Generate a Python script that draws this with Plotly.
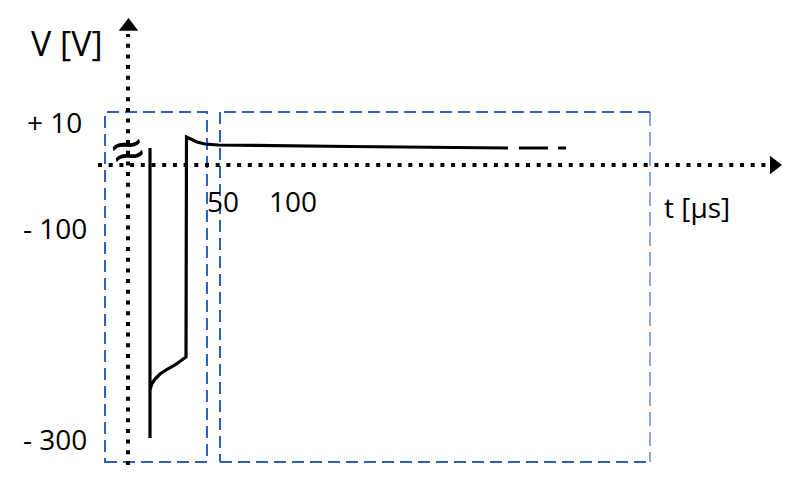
import plotly.graph_objects as go

# schematic drawing units: origin = crossing of the dotted axes, 1 unit ~ 1 px
# pulse waveform (t, V) in schematic units
t_pulse = [22, 22, 22, 23.7, 27, 32, 38.7, 47, 53.7, 58, 58.5, 63, 69, 77, 90, 222, 380]
v_pulse = [17, -273, -225, -219, -214, -209, -204.5, -200, -195, -192, 28, 26, 23, 21, 20, 18.5, 17]

# dashed continuation of the tail
t_tail = [391, 420, None, 430, 438]
v_tail = [17, 17, None, 17, 17]

# axis labels
y_tick_text = ["+ 10", "- 100", "- 300"]
y_tick_pos = [43, -63, -274]
x_tick_text = ["50", "100"]
x_tick_pos = [94.5, 164.5]

font_fam = "Open Sans"
blue = "#2F5FBF"

fig = go.Figure()

# dotted axes
fig.add_trace(go.Scatter(x=[-30, 640], y=[0, 0], mode="lines",
                         line=dict(color="black", width=4, dash="4px,6.7px"),
                         hoverinfo="skip"))
fig.add_trace(go.Scatter(x=[0, 0], y=[-300, 131], mode="lines",
                         line=dict(color="black", width=4, dash="4px,6.7px"),
                         hoverinfo="skip"))
# arrow heads
fig.add_trace(go.Scatter(x=[646], y=[0], mode="markers",
                         marker=dict(symbol="triangle-right", size=16, color="black"),
                         hoverinfo="skip"))
fig.add_trace(go.Scatter(x=[0.5], y=[138.5], mode="markers",
                         marker=dict(symbol="triangle-up", size=17, color="black"),
                         hoverinfo="skip"))

# waveform
fig.add_trace(go.Scatter(x=t_pulse, y=v_pulse, mode="lines",
                         line=dict(color="black", width=3.2), hoverinfo="skip"))
fig.add_trace(go.Scatter(x=t_tail, y=v_tail, mode="lines",
                         line=dict(color="black", width=3), hoverinfo="skip"))

# dashed boxes
box_line = dict(color=blue, width=2, dash="12px,6px")
fig.add_shape(type="rect", x0=-23, x1=79, y0=-297, y1=53, line=box_line, layer="below")
fig.add_shape(type="line", x0=522, x1=92, y0=53, y1=53, line=box_line, layer="below")
fig.add_shape(type="line", x0=92, x1=92, y0=53, y1=-297, line=box_line, layer="below")
fig.add_shape(type="line", x0=92, x1=522, y0=-297, y1=-297, line=box_line, layer="below")
fig.add_shape(type="line", x0=522, x1=522, y0=53, y1=-297,
              line=dict(color=blue, width=1.1, dash="14px,6px"), layer="below")

# labels
fig.add_annotation(x=-61, y=122, text="V [V]", showarrow=False,
                   font=dict(size=34, family=font_fam, color="black"))
fig.add_annotation(x=569, y=-42, text="t [µs]", showarrow=False,
                   font=dict(size=28, family=font_fam, color="black"))
for txt, pos in zip(y_tick_text, y_tick_pos):
    fig.add_annotation(x=-73.5, y=pos, text=txt, showarrow=False,
                       font=dict(size=28, family=font_fam, color="black"))
for txt, pos in zip(x_tick_text, x_tick_pos):
    fig.add_annotation(x=pos, y=-36, text=txt, showarrow=False,
                       font=dict(size=28, family=font_fam, color="black"))
# axis break mark
fig.add_annotation(x=-1, y=16, text="≈", showarrow=False, textangle=-15,
                   font=dict(size=56, family="Liberation Sans", color="black"))

# the page adds an 8px body margin, so the ranges are shifted to compensate
fig.update_layout(
    width=800, height=479,
    margin=dict(l=0, r=0, t=0, b=0),
    paper_bgcolor="white", plot_bgcolor="white",
    showlegend=False,
    xaxis=dict(range=[-120, 680], visible=False, fixedrange=True),
    yaxis=dict(range=[-322, 157], visible=False, fixedrange=True),
)

fig.write_html("out.html")
